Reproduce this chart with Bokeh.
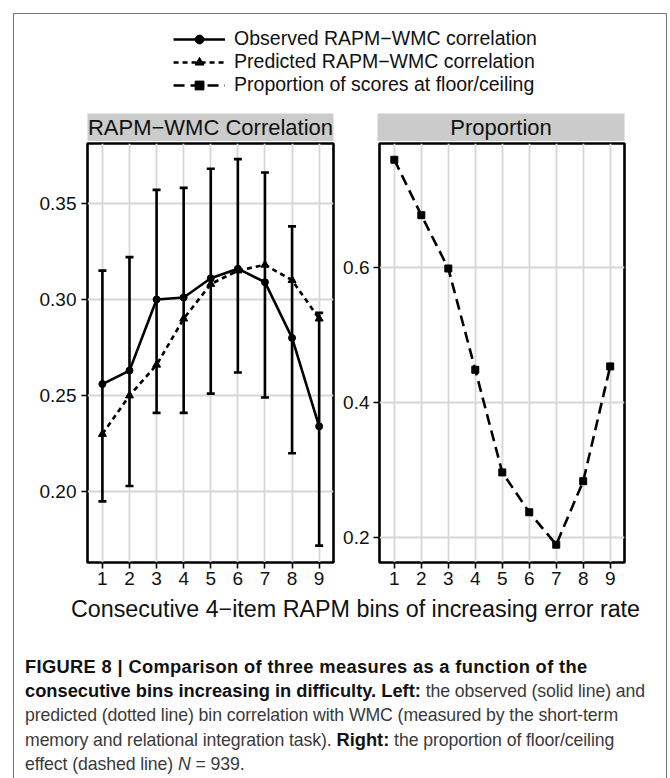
from bokeh.plotting import figure
from bokeh.models import (ColumnDataSource, Range1d, FixedTicker, NumeralTickFormatter,
                          Whisker, TeeHead, Legend, LegendItem, Label, Div)
from bokeh.layouts import column, row
from bokeh.embed import file_html
from bokeh.resources import INLINE

# ---------------- data ----------------
bins = [1, 2, 3, 4, 5, 6, 7, 8, 9]
observed = [0.256, 0.263, 0.300, 0.301, 0.311, 0.316, 0.309, 0.280, 0.234]
obs_upper = [0.315, 0.322, 0.357, 0.358, 0.368, 0.373, 0.366, 0.338, 0.293]
obs_lower = [0.195, 0.203, 0.241, 0.241, 0.251, 0.262, 0.249, 0.220, 0.172]
predicted = [0.230, 0.250, 0.266, 0.290, 0.308, 0.315, 0.318, 0.310, 0.290]
proportion = [0.760, 0.678, 0.599, 0.449, 0.297, 0.238, 0.190, 0.284, 0.454]

left_ticks = [0.20, 0.25, 0.30, 0.35]
right_ticks = [0.2, 0.4, 0.6]

legend_labels = ["Observed RAPM\u2212WMC correlation",
                 "Predicted RAPM\u2212WMC correlation",
                 "Proportion of scores at floor/ceiling"]
strip_labels = ["RAPM\u2212WMC Correlation", "Proportion"]
x_title = "Consecutive 4\u2212item RAPM bins of increasing error rate"

FONT = "Liberation Sans"
LW = 2.6
PRED_DASH = "5 4"
PROP_DASH = "11 6"

src = ColumnDataSource(dict(x=bins, obs=observed, up=obs_upper, lo=obs_lower,
                            pred=predicted, prop=proportion))


def bare(fig):
    fig.grid.visible = False
    fig.outline_line_color = None
    fig.border_fill_color = None
    return fig


def style_panel(p, ticks, fmt, standoff):
    p.outline_line_color = "black"
    p.outline_line_width = LW
    p.border_fill_color = None
    p.background_fill_color = "white"
    p.xaxis.ticker = FixedTicker(ticks=bins)
    p.yaxis.ticker = FixedTicker(ticks=ticks)
    p.yaxis.formatter = NumeralTickFormatter(format=fmt)
    for ax in (p.xaxis[0], p.yaxis[0]):
        ax.axis_line_color = None
        ax.major_tick_line_color = "black"
        ax.major_tick_line_width = 1.6
        ax.major_tick_out = 6
        ax.major_tick_in = 0
        ax.minor_tick_line_color = None
        ax.major_label_text_font = FONT
        ax.major_label_text_font_size = "19px"
        ax.major_label_text_color = "#111111"
    p.xaxis.major_label_standoff = 3
    p.yaxis.major_label_standoff = standoff
    for g in (p.xgrid[0], p.ygrid[0]):
        g.grid_line_color = "#d6d6d6"
        g.grid_line_width = 1.8
        g.minor_grid_line_color = None


x_rng = Range1d(0.45, 9.53)

# ---------------- left panel ----------------
left = figure(width=340, height=452, x_range=x_rng, y_range=Range1d(0.1632, 0.3811),
              output_backend="svg", toolbar_location=None,
              min_border_left=87, min_border_right=7, min_border_top=2, min_border_bottom=31)
style_panel(left, left_ticks, "0.00", 5)
left.add_layout(Whisker(source=src, base="x", upper="up", lower="lo",
                        line_color="black", line_width=LW,
                        upper_head=TeeHead(size=8, line_width=LW, line_color="black"),
                        lower_head=TeeHead(size=8, line_width=LW, line_color="black"),
                        level="glyph"))
left.line("x", "pred", source=src, line_color="black", line_width=LW, line_dash=PRED_DASH)
left.scatter("x", "pred", source=src, marker="triangle", size=8, color="black")
left.line("x", "obs", source=src, line_color="black", line_width=LW)
left.scatter("x", "obs", source=src, marker="circle", size=7, color="black")

# ---------------- right panel ----------------
right = figure(width=330, height=452, x_range=x_rng, y_range=Range1d(0.1636, 0.7841),
               output_backend="svg", toolbar_location=None,
               min_border_left=37, min_border_right=46, min_border_top=2, min_border_bottom=31)
style_panel(right, right_ticks, "0.0", 4)
right.line("x", "prop", source=src, line_color="black", line_width=LW, line_dash=PROP_DASH)
right.scatter("x", "prop", source=src, marker="square", size=7, color="black")


# ---------------- strips ----------------
def strip(text, width, bl, br):
    s = figure(width=width, height=28, x_range=Range1d(0, 1), y_range=Range1d(0, 1),
               output_backend="svg", toolbar_location=None,
               x_axis_location=None, y_axis_location=None,
               min_border_left=bl, min_border_right=br, min_border_top=0, min_border_bottom=0)
    bare(s)
    s.background_fill_color = "#cbcbcb"
    s.add_layout(Label(x=0.5, y=0.5, text=text, text_align="center", text_baseline="middle",
                       text_font=FONT, text_font_size="22px", text_color="#111111"))
    return s


strip_l = strip(strip_labels[0], 340, 87, 7)
strip_r = strip(strip_labels[1], 330, 37, 46)

# ---------------- legend ----------------
leg = figure(width=670, height=113, x_range=Range1d(-20, -19), y_range=Range1d(-20, -19),
             output_backend="svg", toolbar_location=None,
             x_axis_location=None, y_axis_location=None,
             min_border_left=87, min_border_right=47, min_border_top=0, min_border_bottom=0)
bare(leg)
leg.background_fill_color = None
r1 = leg.line("x", "obs", source=src, line_color="black", line_width=LW)
r1m = leg.scatter("x", "obs", source=src, marker="circle", size=7, color="black")
r2 = leg.line("x", "pred", source=src, line_color="black", line_width=LW, line_dash=PRED_DASH)
r2m = leg.scatter("x", "pred", source=src, marker="triangle", size=8, color="black")
r3 = leg.line("x", "prop", source=src, line_color="black", line_width=LW, line_dash=PROP_DASH)
r3m = leg.scatter("x", "prop", source=src, marker="square", size=7, color="black")
legend = Legend(items=[LegendItem(label=legend_labels[0], renderers=[r1, r1m]),
                       LegendItem(label=legend_labels[1], renderers=[r2, r2m]),
                       LegendItem(label=legend_labels[2], renderers=[r3, r3m])],
                location="top_center", orientation="vertical",
                glyph_width=52, glyph_height=22, label_height=22, spacing=0,
                label_standoff=9, padding=0, margin=27,
                border_line_color=None, background_fill_color=None,
                label_text_font=FONT, label_text_font_size="19.5px",
                label_text_color="#111111", label_text_baseline="middle")
leg.add_layout(legend, "center")

# ---------------- x-axis title (figure title, centred over the panels) ----------------
xt = figure(width=670, height=40, x_range=Range1d(0, 1), y_range=Range1d(0, 1),
            title=x_title, output_backend="svg", toolbar_location=None,
            x_axis_location=None, y_axis_location=None,
            min_border_left=87, min_border_right=47, min_border_top=0, min_border_bottom=0)
bare(xt)
xt.background_fill_color = None
xt.title.align = "center"
xt.title.text_font = FONT
xt.title.text_font_size = "23.3px"
xt.title.text_font_style = "normal"
xt.title.text_color = "#111111"
xt.title.standoff = 0
xt.title.offset = 0

# ---------------- caption ----------------
caption_html = (
    '<div style="padding:17px 0 0 20px; font-family:\'Liberation Sans\', Arial, sans-serif;'
    ' font-size:17.7px; line-height:24.2px; color:#3a3a3a; white-space:nowrap;'
    ' letter-spacing:-0.1px;">'
    '<b style="color:#111; font-size:18.3px; letter-spacing:0.35px;">FIGURE 8 | Comparison of three measures as a function of the</b><br>'
    '<b style="color:#111; font-size:18.3px; letter-spacing:0px;">consecutive bins increasing in difficulty. Left:</b> the observed (solid line) and<br>'
    'predicted (dotted line) bin correlation with WMC (measured by the short-term<br>'
    'memory and relational integration task). <b style="color:#111; font-size:18.3px; letter-spacing:0px;">Right:</b> the proportion of floor/ceiling<br>'
    'effect (dashed line) <i>N</i> = 939.</div>'
)
caption = Div(text=caption_html, width=670, height=145)

frame_css = {
    "background-image": ("linear-gradient(#777,#777), linear-gradient(#777,#777), "
                         "linear-gradient(#777,#777)"),
    "background-size": "1px 100%, 1px 100%, 654px 1px",
    "background-position": "13px 13px, 666px 13px, 13px 13px",
    "background-repeat": "no-repeat",
}

p = column(leg, row(strip_l, strip_r), row(left, right), xt, caption, styles=frame_css)

open("out.html", "w").write(file_html(p, INLINE))
